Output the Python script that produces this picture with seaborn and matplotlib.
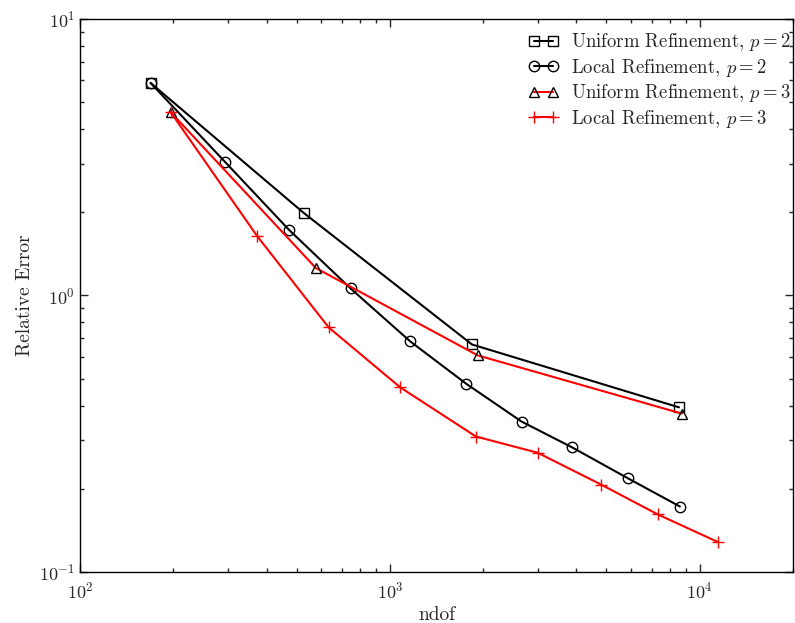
import numpy as np
import pandas as pd
import matplotlib
matplotlib.use("Agg")
import matplotlib.pyplot as plt
import seaborn as sns

# Data
uni_p2_ndof = [169, 527, 1841, 8570]
uni_p2_err = [5.87, 1.99, 0.665, 0.394]

loc_p2_ndof = [169, 294, 472, 747, 1164, 1761, 2661, 3880, 5873, 8630]
loc_p2_err = [5.87, 3.04, 1.73, 1.06, 0.682, 0.480, 0.350, 0.282, 0.218, 0.1725]

uni_p3_ndof = [196, 577, 1923, 8750]
uni_p3_err = [4.61, 1.257, 0.607, 0.374]

loc_p3_ndof = [196, 373, 635, 1081, 1895, 2998, 4808, 7330, 11430]
loc_p3_err = [4.61, 1.64, 0.766, 0.465, 0.309, 0.270, 0.207, 0.1614, 0.1284]

labels = [r"Uniform Refinement, $p = 2$", r"Local Refinement, $p = 2$",
          r"Uniform Refinement, $p = 3$", r"Local Refinement, $p = 3$"]

sns.set_style("ticks")
plt.rcParams.update({
    "font.family": ["cmr10", "DejaVu Serif"],
    "mathtext.fontset": "cm",
    "axes.formatter.use_mathtext": True,
    "xtick.direction": "in",
    "ytick.direction": "in",
    "xtick.top": True,
    "ytick.right": True,
    "axes.edgecolor": "black",
    "axes.linewidth": 1.0,
})

fig = plt.figure(figsize=(7.95, 6.23), dpi=100)
ax = fig.add_axes([0.1006, 0.0819, 0.8969, 0.8876])

series = [
    (uni_p2_ndof, uni_p2_err, labels[0], "black", "s", "black", 7.5),
    (loc_p2_ndof, loc_p2_err, labels[1], "black", "o", "black", 7.5),
    (uni_p3_ndof, uni_p3_err, labels[2], "red", "^", "black", 7.5),
    (loc_p3_ndof, loc_p3_err, labels[3], "red", "+", "red", 8),
]
for xs, ys, lab, col, mk, mec, ms in series:
    df = pd.DataFrame({"ndof": xs, "err": ys})
    sns.lineplot(data=df, x="ndof", y="err", ax=ax, color=col, label=lab,
                 estimator=None, sort=False, marker=mk, markersize=ms,
                 markerfacecolor="none", markeredgecolor=mec,
                 markeredgewidth=1.0, linewidth=1.5)

ax.set_xscale("log")
ax.set_yscale("log")
ax.set_xlim(100, 2e4)
ax.set_ylim(0.1, 10)
ax.tick_params(which="major", length=6, width=1, labelsize=13)
ax.tick_params(which="minor", length=3, width=1)
ax.tick_params(axis="x", which="major", pad=6)
ax.set_xlabel("ndof", fontsize=14)
ax.set_ylabel("Relative Error", fontsize=14)
for s in ax.spines.values():
    s.set_visible(True)

leg = ax.legend(loc="upper right", bbox_to_anchor=(1.0, 0.981),
                frameon=False, fontsize=13.5, numpoints=2,
                handlelength=1.6, handletextpad=0.7, borderaxespad=0.0,
                borderpad=0.1, labelspacing=0.18)

fig.savefig("out.png", dpi=100)
